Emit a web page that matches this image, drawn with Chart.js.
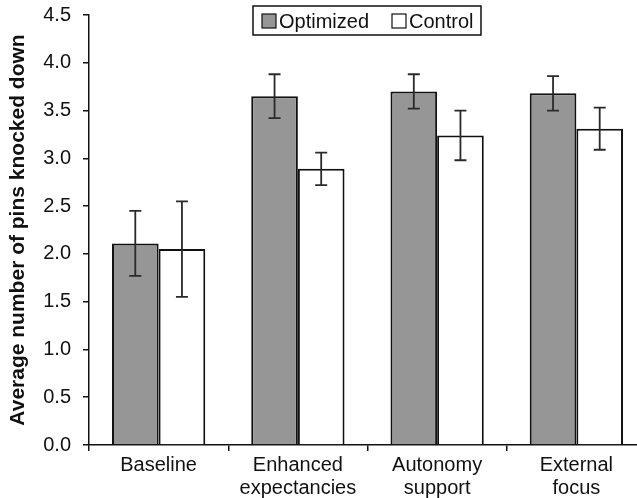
<!DOCTYPE html>
<html>
<head>
<meta charset="utf-8">
<script src="https://cdn.jsdelivr.net/npm/chart.js@4/dist/chart.umd.min.js"></script>
<style>
  html, body { margin: 0; padding: 0; background: #fff; overflow: hidden; }
  #wrap { width: 647px; height: 498px; }
</style>
</head>
<body>
<div id="wrap"><canvas id="myChart" width="647" height="498"></canvas></div>
<script>
"use strict";
const categories = [["Baseline"], ["Enhanced", "expectancies"], ["Autonomy", "support"], ["External", "focus"]];
const seriesNames = ["Optimized", "Control"];
const optimized = [2.11, 3.65, 3.70, 3.68];
const optimizedErr = [0.34, 0.23, 0.18, 0.18];
const control = [2.05, 2.89, 3.24, 3.31];
const controlErr = [0.50, 0.17, 0.26, 0.22];
const yTicks = [0, 0.5, 1, 1.5, 2, 2.5, 3, 3.5, 4, 4.5];

const font = "'Liberation Sans', Arial, sans-serif";
const errors = [optimizedErr, controlErr];

const errorBars = {
    id: "errorBars",
    afterDatasetsDraw(chart) {
        const ctx = chart.ctx;
        const y = chart.scales.y;
        ctx.save();
        ctx.strokeStyle = "#2a2a2a";
        ctx.lineWidth = 1.8;
        chart.data.datasets.forEach((ds, d) => {
            const meta = chart.getDatasetMeta(d);
            meta.data.forEach((bar, i) => {
                const v = ds.data[i];
                const e = errors[d][i];
                const top = y.getPixelForValue(v + e);
                const bot = y.getPixelForValue(v - e);
                const x = bar.x;
                ctx.beginPath();
                ctx.moveTo(x, top); ctx.lineTo(x, bot);
                ctx.moveTo(x - 6, top); ctx.lineTo(x + 6, top);
                ctx.moveTo(x - 6, bot); ctx.lineTo(x + 6, bot);
                ctx.stroke();
            });
        });
        ctx.restore();
    }
};

const boxLegend = {
    id: "boxLegend",
    afterDraw(chart) {
        const ctx = chart.ctx;
        const left = 253, top = 6, w = 228, h = 29;
        ctx.save();
        ctx.fillStyle = "#fff";
        ctx.fillRect(left, top, w, h);
        ctx.strokeStyle = "#111";
        ctx.lineWidth = 1.5;
        ctx.strokeRect(left, top, w, h);
        ctx.font = "20px " + font;
        ctx.textBaseline = "middle";
        const xs = [262, 392];
        chart.data.datasets.forEach((ds, d) => {
            const x = xs[d];
            ctx.fillStyle = ds.backgroundColor;
            ctx.fillRect(x, 14, 14, 14);
            ctx.strokeStyle = "#111";
            ctx.lineWidth = 1.2;
            ctx.strokeRect(x, 14, 14, 14);
            ctx.fillStyle = "#111";
            ctx.fillText(ds.label, x + 17, 22);
        });
        ctx.restore();
    }
};

const ctx = document.querySelector("#myChart").getContext("2d");
const myChart = new Chart(ctx, {
    type: "bar",
    data: {
        labels: categories,
        datasets: [{
            label: seriesNames[0],
            data: optimized,
            backgroundColor: "#969696",
            borderColor: "#111",
            borderWidth: 2
        }, {
            label: seriesNames[1],
            data: control,
            backgroundColor: "#ffffff",
            borderColor: "#111",
            borderWidth: 2
        }]
    },
    options: {
        responsive: false,
        animation: false,
        layout: { padding: { top: 15, left: 0, right: 1, bottom: 0 } },
        categoryPercentage: 0.67,
        barPercentage: 1,
        plugins: {
            legend: { display: false },
            tooltip: { enabled: false }
        },
        scales: {
            x: {
                grid: { display: true, drawOnChartArea: false, drawTicks: true, tickLength: 6, offset: true, color: "#111", lineWidth: 1.5 },
                border: { display: true, color: "#111", width: 1.5 },
                ticks: { color: "#111", font: { family: font, size: 20, lineHeight: 1.15 }, padding: 3, maxRotation: 0 },
                afterFit(scale) { scale.height = 53; scale.paddingLeft = 0; scale.paddingRight = 0; }
            },
            y: {
                min: 0,
                max: 4.5,
                afterBuildTicks(scale) { scale.ticks = yTicks.map(v => ({ value: v })); },
                grid: { display: true, drawOnChartArea: false, drawTicks: true, tickLength: 6, color: "#111", lineWidth: 1.5 },
                border: { display: true, color: "#111", width: 1.5 },
                ticks: { color: "#111", font: { family: font, size: 20 }, padding: 12, callback: v => v.toFixed(1) },
                title: {
                    display: true,
                    text: "Average number of pins knocked down",
                    color: "#111",
                    font: { family: font, size: 21, weight: "bold" },
                    padding: { top: 6, bottom: 0 }
                },
                afterFit(scale) { scale.width = 89; scale.paddingTop = 0; scale.paddingBottom = 0; }
            }
        }
    },
    plugins: [errorBars, boxLegend]
});
</script>
</body>
</html>
